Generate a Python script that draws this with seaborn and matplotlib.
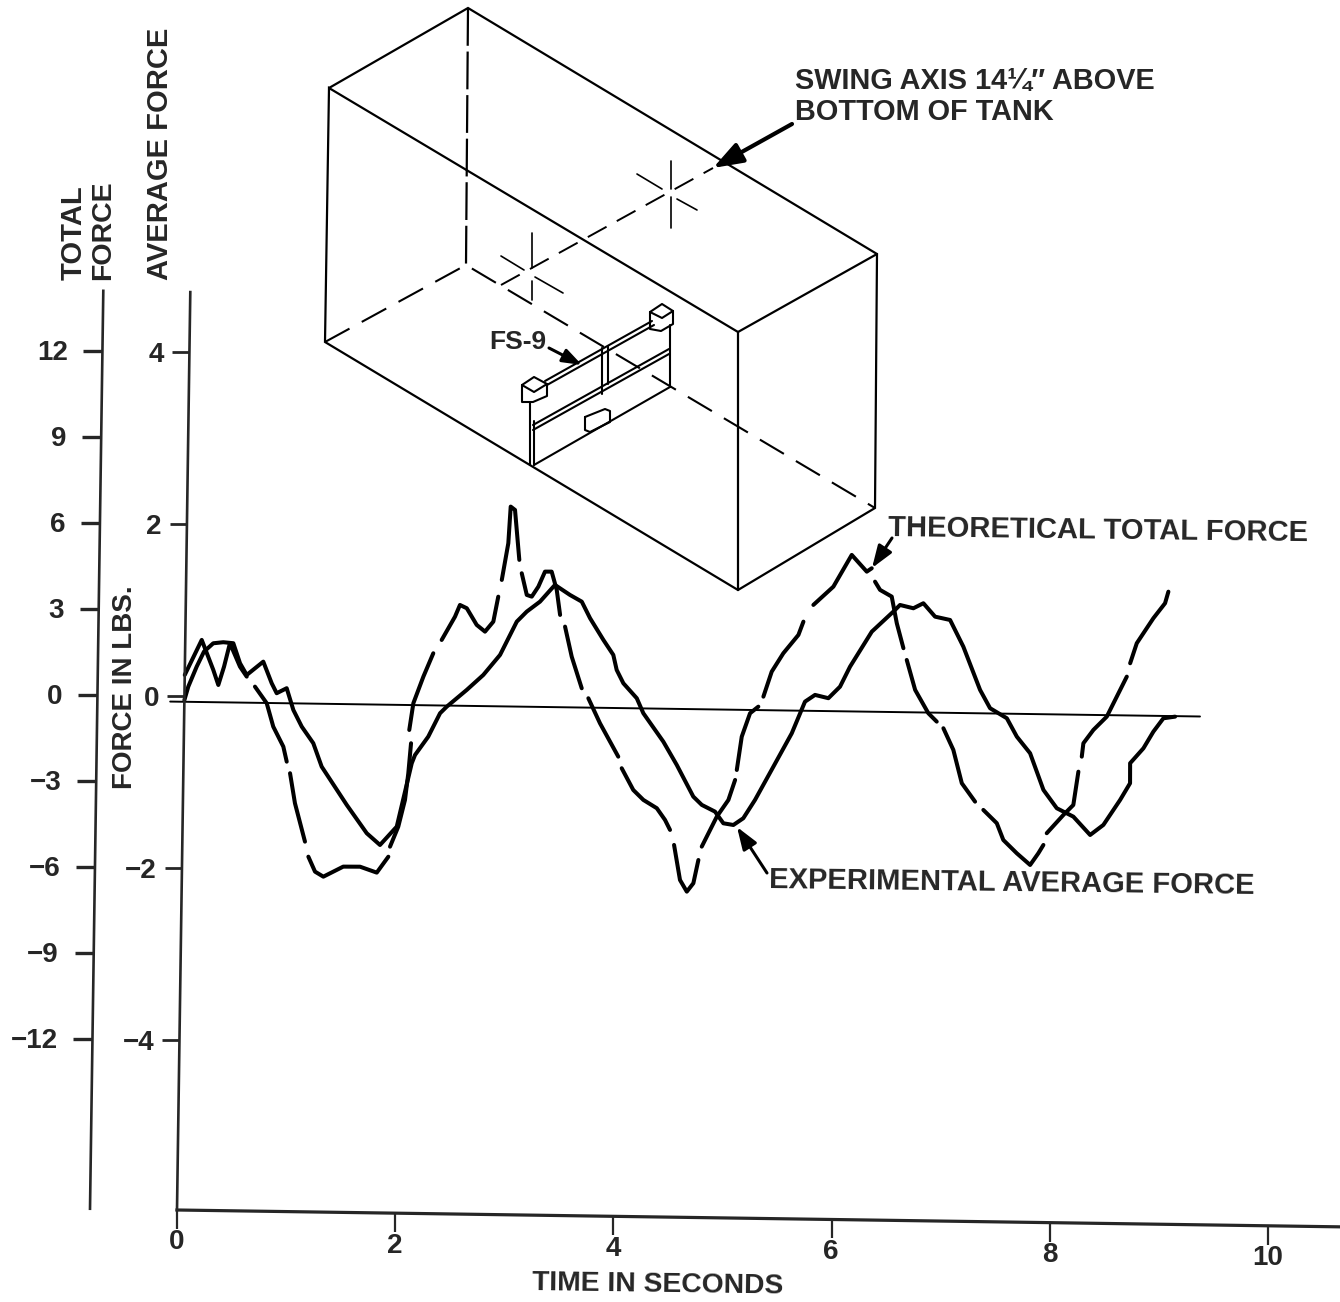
import matplotlib
matplotlib.use('Agg')
import matplotlib.pyplot as plt
import pandas as pd
import seaborn as sns
from matplotlib.transforms import Affine2D

# experimental average force (solid curve), seconds / lbs
exp_t = [0.0, 0.034, 0.108, 0.173, 0.257, 0.349, 0.441, 0.505, 0.568, 0.718, 0.798, 0.845, 0.936, 1.0,
         1.079, 1.187, 1.267, 1.502, 1.689, 1.812, 1.963, 2.092, 2.121, 2.24, 2.345, 2.405, 2.586, 2.736,
         2.887, 3.036, 3.126, 3.246, 3.381, 3.52, 3.629, 3.707, 3.832, 3.925, 3.958, 4.021, 4.146, 4.208,
         4.395, 4.521, 4.677, 4.756, 4.878, 4.956, 5.048, 5.138, 5.243, 5.407, 5.571, 5.688, 5.779, 5.902,
         6.007, 6.096, 6.291, 6.486, 6.546, 6.669, 6.76, 6.869, 7.007, 7.132, 7.291, 7.385, 7.54, 7.634,
         7.758, 7.885, 8.01, 8.163, 8.319, 8.439, 8.589, 8.678, 8.676, 8.796, 8.885, 8.975, 9.082]
exp_f = [0.0, 0.157, 0.39, 0.566, 0.665, 0.679, 0.669, 0.437, 0.302, 0.46, 0.21, 0.095, 0.155, -0.097,
         -0.289, -0.48, -0.751, -1.192, -1.518, -1.652, -1.436, -0.697, -0.6, -0.384, -0.11, -0.033, 0.165, 0.342,
         0.578, 0.968, 1.086, 1.204, 1.401, 1.287, 1.211, 1.02, 0.77, 0.597, 0.423, 0.269, 0.097, -0.076,
         -0.403, -0.671, -1.037, -1.132, -1.208, -1.342, -1.36, -1.28, -1.065, -0.675, -0.284, 0.086, 0.166, 0.13,
         0.266, 0.5, 0.911, 1.148, 1.226, 1.19, 1.25, 1.096, 1.06, 0.752, 0.252, 0.041, -0.073, -0.285,
         -0.476, -0.9, -1.111, -1.206, -1.416, -1.297, -1.004, -0.808, -0.575, -0.399, -0.204, -0.047, -0.026]

# theoretical total force (broken curve), one pair of lists per pen stroke
theory_t = [
    [0.0, 0.151, 0.261, 0.309, 0.359, 0.41, 0.505, 0.568],
    [0.645, 0.755, 0.818, 0.913, 0.946],
    [0.978, 1.027, 1.124],
    [1.157, 1.22, 1.297, 1.478, 1.632, 1.786, 1.89],
    [1.904, 1.977, 2.035, 2.062, 2.083],
    [2.065, 2.099, 2.187, 2.275],
    [2.35, 2.469, 2.513, 2.576, 2.669, 2.746, 2.821, 2.863],
    [2.893, 2.948, 2.965, 3.005, 3.051],
    [3.075, 3.124, 3.17, 3.229, 3.288, 3.349, 3.398, 3.432],
    [3.479, 3.544, 3.64],
    [3.702, 3.812, 3.984],
    [4.017, 4.126, 4.22, 4.344, 4.421, 4.468],
    [4.507, 4.566, 4.63, 4.689, 4.732],
    [4.761, 4.895, 4.999, 5.058],
    [5.072, 5.113, 5.186, 5.261],
    [5.306, 5.379, 5.483, 5.619, 5.663],
    [5.752, 5.933, 6.097, 6.237, 6.282],
    [6.314, 6.361, 6.469, 6.519, 6.583],
    [6.615, 6.696, 6.82, 6.898],
    [6.96, 7.054, 7.136, 7.26],
    [7.337, 7.462, 7.524, 7.649, 7.773, 7.847, 7.892],
    [7.921, 8.071, 8.161, 8.203],
    [8.232, 8.245, 8.335, 8.456, 8.545, 8.634],
    [8.663, 8.721, 8.87, 8.975, 9.004],
]
theory_f = [
    [0.292, 0.702, 0.355, 0.181, 0.395, 0.668, 0.398, 0.283],
    [0.168, -0.023, -0.294, -0.525, -0.699],
    [-0.833, -1.181, -1.626],
    [-1.8, -1.973, -2.03, -1.91, -1.908, -1.974, -1.787],
    [-1.67, -1.436, -1.124, -0.813, -0.464],
    [-0.31, 0.002, 0.312, 0.586],
    [0.742, 1.015, 1.152, 1.115, 0.923, 0.846, 0.964, 1.255],
    [1.45, 1.878, 2.304, 2.266, 1.686],
    [1.531, 1.28, 1.261, 1.378, 1.554, 1.555, 1.343, 1.053],
    [0.918, 0.57, 0.204],
    [0.089, -0.2, -0.585],
    [-0.719, -0.97, -1.084, -1.178, -1.313, -1.428],
    [-1.602, -2.008, -2.143, -2.044, -1.773],
    [-1.617, -1.266, -1.07, -0.836],
    [-0.72, -0.332, -0.058, 0.02],
    [0.137, 0.429, 0.645, 0.861, 1.016],
    [1.212, 1.428, 1.8, 1.608, 1.648],
    [1.493, 1.398, 1.322, 1.013, 0.724],
    [0.588, 0.241, -0.028, -0.124],
    [-0.2, -0.45, -0.836, -1.048],
    [-1.143, -1.295, -1.489, -1.641, -1.775, -1.637, -1.54],
    [-1.403, -1.188, -1.07, -0.682],
    [-0.507, -0.351, -0.194, -0.037, 0.197, 0.431],
    [0.587, 0.821, 1.115, 1.291, 1.426],
]

zero_t = [-0.13, 9.31]
zero_f = [-0.02, -0.02]

time_ticks = [0, 2, 4, 6, 8, 10]
avg_ticks = [4, 2, 0, -2, -4]
avg_labels = ['4', '2', '0', '\u22122', '\u22124']
total_ticks = [12, 9, 6, 3, 0, -3, -6, -9, -12]
total_labels = ['12', '9', '6', '3', '0', '\u22123', '\u22126', '\u22129', '\u221212']

# tank sketch in image pixels
tank_solid = [
    [(329, 88), (468, 8), (877, 254), (875, 508), (738, 590), (325, 342), (329, 88), (738, 332), (738, 590)],
    [(738, 332), (877, 254)],
]
tank_vertical_dashed = [(468, 8), (466, 265)]
tank_floor_dashed = [(325, 342), (466, 265), (875, 508)]
swing_axis_dashed = [(501, 285), (713, 168)]
cross_lines = [
    [(671, 161), (671, 189)], [(671, 197), (671, 228)],
    [(637, 174), (662, 189)], [(677, 199), (697, 210)],
    [(532, 233), (532, 268)], [(532, 281), (532, 300)],
    [(501, 256), (524, 270)], [(535, 277), (563, 293)],
]
panel_lines = [
    [(545, 381), (652, 321)], [(547, 385), (654, 325)],
    [(533, 425), (669, 349)], [(533, 430), (669, 354)],
    [(534, 465), (670, 387)], [(670, 325), (670, 387)],
    [(530, 402), (530, 465)], [(534, 421), (534, 465)],
    [(602, 348), (602, 394)], [(608, 346), (608, 384)],
    [(522, 385), (534, 377), (547, 384), (547, 396), (533, 402), (522, 402), (522, 385), (534, 392), (547, 384)],
    [(650, 312), (662, 304), (673, 311), (673, 324), (661, 331), (650, 329), (650, 312), (662, 318), (673, 311)],
    [(585, 417), (605, 409), (610, 411), (610, 422), (590, 432), (585, 430), (585, 417)],
]

tilt = -0.83  # the page sits slightly crooked
font = 'Liberation Sans'

sns.set_style('ticks')
plt.rcParams['font.family'] = [font, 'DejaVu Sans']
plt.rcParams['font.weight'] = 'bold'
plt.rcParams['axes.labelweight'] = 'bold'

fig = plt.figure(figsize=(13.4, 13.02), dpi=100)
ax = fig.add_axes([177 / 1340, 92 / 1302, 1163 / 1340, 918 / 1302])
ax.patch.set_visible(False)
rot = Affine2D().rotate_deg_around(177, 92, tilt)
rotated = ax.transData + rot

curve_style = dict(color='black', lw=2.9, sort=False, estimator=None, transform=rotated, clip_on=False,
                   legend=False, solid_joinstyle='round', solid_capstyle='round')
exp_df = pd.DataFrame({'t': exp_t, 'f': exp_f})
sns.lineplot(data=exp_df, x='t', y='f', ax=ax, **curve_style)
for seg_t, seg_f in zip(theory_t, theory_f):
    seg_df = pd.DataFrame({'t': seg_t, 'f': seg_f})
    sns.lineplot(data=seg_df, x='t', y='f', ax=ax, **curve_style)
ax.plot(zero_t, zero_f, color='black', lw=1.4, transform=rotated, clip_on=False)

ax.set_xlim(0, 1163 / 109.1)
ax.set_ylim(-510 / 86, 408 / 86)
ax.set_xticks(time_ticks)
ax.set_xticklabels([str(v) for v in time_ticks])
ax.set_yticks(avg_ticks)
ax.set_yticklabels(avg_labels)
ax.tick_params(axis='x', length=14, width=1.6, pad=0, labelsize=20)
ax.tick_params(axis='y', length=12, width=2.0, pad=6, labelsize=20)
ax.set_xlabel('TIME IN SECONDS', fontsize=20.3, rotation=-0.8, va='center', ha='center')
ax.xaxis.set_label_coords(0.413, -0.0817)
ax.set_ylabel('FORCE IN LBS.', fontsize=20, va='center', ha='center')
ax.yaxis.set_label_coords(-0.0447, 0.57)
sns.despine(ax=ax)

# second scale for the total force, three times the average one
ax2 = ax.twinx()
ax2.patch.set_visible(False)
ax2.yaxis.tick_left()
ax2.spines['left'].set_visible(True)
ax2.spines['left'].set_position(('outward', 87 * 0.72))
ax2.spines['right'].set_visible(False)
ax2.spines['top'].set_visible(False)
ax2.spines['bottom'].set_visible(False)
ax2.set_ylim(-510 * 3 / 86, 408 * 3 / 86)
ax2.set_yticks(total_ticks)
ax2.set_yticklabels(total_labels)
ax2.tick_params(axis='y', length=14, width=2.4, pad=11, labelsize=20)

# tilt spines, ticks and tick labels along with the curves
# the printed y ticks sit a few pixels above the curves' zero, same as on the page
tick_rot = rot + Affine2D().translate(0, 4)
for a in (ax, ax2):
    for spine in a.spines.values():
        spine.set_linewidth(1.9)
        spine.set_transform(spine.get_transform() + rot)
    for tick in a.xaxis.get_major_ticks():
        tick.tick1line.set_transform(tick.tick1line.get_transform() + rot)
        tick.label1.set_transform(tick.label1.get_transform() + rot)
    for tick in a.yaxis.get_major_ticks():
        tick.tick1line.set_transform(tick.tick1line.get_transform() + tick_rot)
        tick.label1.set_transform(tick.label1.get_transform() + tick_rot)
ax.spines['bottom'].set_linewidth(2.3)

# overlay in image pixels for the tank sketch and notes
ov = fig.add_axes([0, 0, 1, 1])
ov.set_xlim(0, 1340)
ov.set_ylim(1302, 0)
ov.axis('off')
for pts in tank_solid:
    ov.plot(*zip(*pts), color='black', lw=1.6, solid_joinstyle='miter')
ov.plot(*zip(*tank_vertical_dashed), color='black', lw=1.6, dashes=(17, 2.6))
ov.plot(*zip(*tank_floor_dashed), color='black', lw=1.5, dashes=(13.4, 6.7))
ov.plot(*zip(*swing_axis_dashed), color='black', lw=1.4, dashes=(11, 6))
for pts in cross_lines:
    ov.plot(*zip(*pts), color='black', lw=1.2)
for pts in panel_lines:
    ov.plot(*zip(*pts), color='black', lw=1.5)

ov.text(795, 81, 'SWING AXIS 14\u00bc\u2033 ABOVE', fontsize=20.8, ha='left', va='center')
ov.text(795, 112, 'BOTTOM OF TANK', fontsize=20.8, ha='left', va='center')
ov.text(888, 531, 'THEORETICAL TOTAL FORCE', fontsize=21, ha='left', va='center', rotation=-0.7)
ov.text(769, 883, 'EXPERIMENTAL AVERAGE FORCE', fontsize=21, ha='left', va='center', rotation=-0.7)
ov.text(489, 342, 'FS-9', fontsize=19, ha='left', va='center')
ov.text(74, 280, 'TOTAL', fontsize=21, rotation=90, ha='center', va='bottom')
ov.text(103, 280, 'FORCE', fontsize=20.5, rotation=90, ha='center', va='bottom')
ov.text(160, 280, 'AVERAGE FORCE', fontsize=21, rotation=90, ha='center', va='bottom')

arrow = dict(arrowstyle='-|>,head_length=0.9,head_width=0.32', color='black', lw=2.2, shrinkA=0, shrinkB=0)
ov.annotate('', xy=(713, 168), xytext=(792, 124),
            arrowprops=dict(arrow, lw=3.0, mutation_scale=20))
ov.annotate('', xy=(872, 568), xytext=(892, 538), arrowprops=dict(arrow, mutation_scale=15))
ov.annotate('', xy=(737, 827), xytext=(767, 873), arrowprops=dict(arrow, mutation_scale=15))
ov.annotate('', xy=(582, 365), xytext=(549, 348), arrowprops=dict(arrow, mutation_scale=13))

fig.savefig('out.png', dpi=100, facecolor='white')
